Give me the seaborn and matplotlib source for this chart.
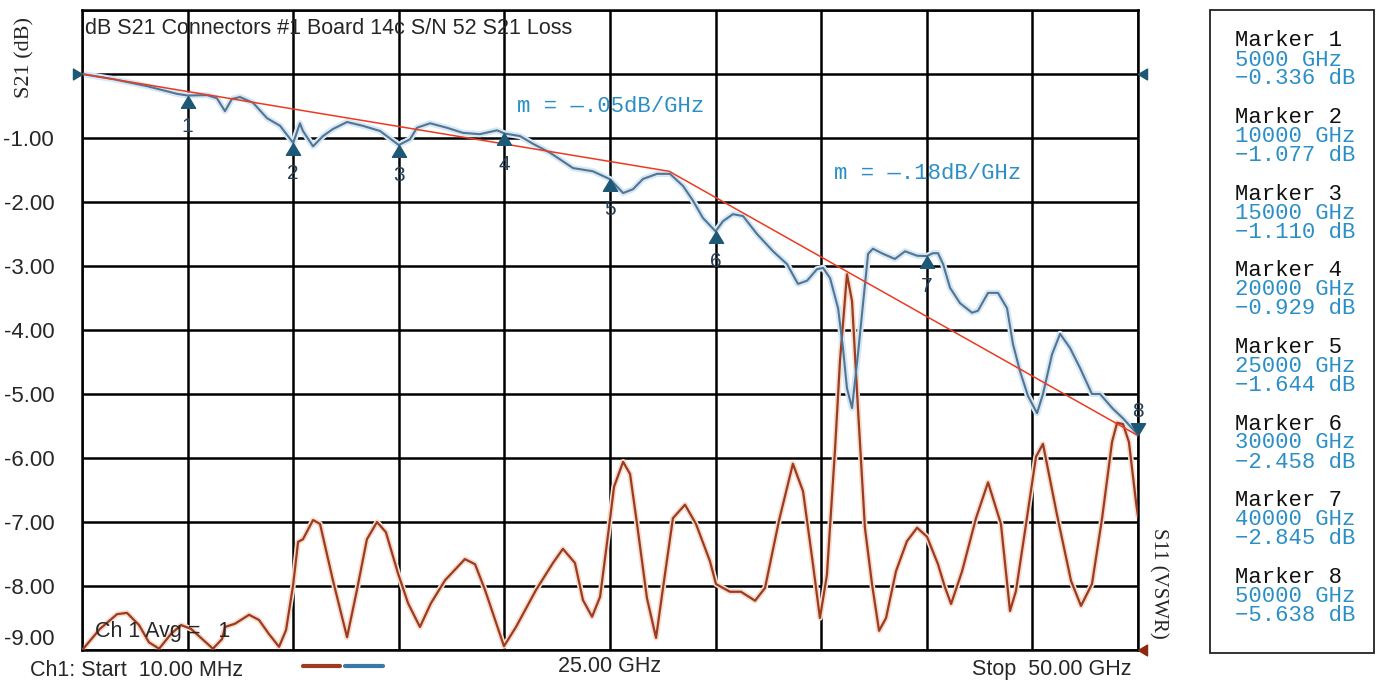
import numpy as np
import pandas as pd
import seaborn as sns
import matplotlib.pyplot as plt
from matplotlib.lines import Line2D
from matplotlib.patches import Rectangle

# S21 trace (GHz, dB)
s21_freq = [0.01, 1.47, 3.08, 4.50, 5.00, 5.92, 6.39, 6.77, 7.10, 7.48, 8.10, 8.76, 9.38, 10.00,
            10.32, 10.46, 10.94, 11.41, 11.88, 12.55, 13.30, 14.11, 15.00, 15.53, 15.86, 16.48,
            17.28, 18.04, 18.84, 19.65, 20.00, 20.74, 21.35, 22.16, 23.25, 24.19, 25.00, 25.62,
            26.09, 26.56, 27.23, 27.84, 28.46, 28.93, 29.40, 30.00, 30.35, 30.82, 31.30, 31.96,
            32.72, 33.38, 33.90, 34.33, 34.80, 35.09, 35.42, 35.80, 36.03, 36.22, 36.46, 36.74,
            36.98, 37.22, 37.45, 37.93, 38.49, 38.97, 39.54, 40.00, 40.29, 40.53, 40.77, 41.10,
            41.57, 42.14, 42.42, 42.90, 43.37, 43.80, 44.08, 44.41, 44.79, 45.22, 45.50, 45.93,
            46.31, 46.78, 47.25, 47.82, 48.20, 48.81, 49.29, 50.00]
s21_db = [0.00, -0.08, -0.19, -0.31, -0.336, -0.33, -0.38, -0.58, -0.39, -0.36, -0.45, -0.69,
          -0.81, -1.077, -0.77, -0.89, -1.13, -0.97, -0.86, -0.75, -0.81, -0.89, -1.110, -1.02,
          -0.84, -0.77, -0.84, -0.92, -0.94, -0.88, -0.929, -0.97, -1.09, -1.23, -1.47, -1.52,
          -1.644, -1.86, -1.80, -1.64, -1.56, -1.56, -1.75, -1.98, -2.25, -2.458, -2.30, -2.19,
          -2.22, -2.50, -2.77, -2.97, -3.28, -3.23, -3.05, -3.03, -3.19, -3.66, -4.28, -4.91,
          -5.22, -4.38, -3.59, -2.81, -2.73, -2.81, -2.89, -2.77, -2.84, -2.845, -2.80, -2.80,
          -2.97, -3.34, -3.58, -3.73, -3.70, -3.42, -3.42, -3.66, -4.22, -4.64, -5.03, -5.30,
          -5.00, -4.38, -4.06, -4.28, -4.59, -5.00, -5.00, -5.23, -5.38, -5.638]

# S11 trace, drawn on the same screen grid
s11_freq = [0.01, 0.85, 1.66, 2.13, 2.70, 3.17, 3.65, 4.21, 4.69, 5.16, 5.73, 6.20, 6.63, 6.77,
            7.24, 7.91, 8.38, 8.85, 9.33, 9.66, 9.99, 10.23, 10.46, 10.94, 11.27, 11.88, 12.55,
            13.02, 13.49, 13.97, 14.39, 14.96, 15.44, 16.00, 16.52, 17.19, 18.13, 18.61, 19.08,
            19.98, 20.55, 21.50, 22.30, 22.77, 23.34, 23.72, 24.15, 24.53, 24.95, 25.19, 25.62,
            25.95, 26.28, 26.75, 27.18, 27.51, 27.98, 28.55, 29.07, 29.73, 30.02, 30.68, 31.20,
            31.87, 32.34, 33.00, 33.66, 34.14, 34.61, 34.94, 35.27, 35.65, 35.89, 36.22, 36.46,
            36.74, 37.07, 37.41, 37.74, 38.07, 38.54, 39.06, 39.54, 40.01, 40.53, 40.86, 41.15,
            41.67, 42.33, 42.90, 43.51, 43.94, 44.22, 44.65, 45.17, 45.50, 46.16, 46.83, 47.30,
            47.82, 48.30, 48.77, 49.01, 49.29, 49.57, 49.91, 50.00]
s11_db = [-9.00, -8.67, -8.44, -8.42, -8.61, -8.88, -8.98, -8.75, -8.61, -8.67, -8.84, -8.98,
          -8.83, -8.64, -8.59, -8.45, -8.53, -8.75, -8.95, -8.69, -8.00, -7.31, -7.27, -6.97,
          -7.03, -7.91, -8.80, -8.06, -7.27, -7.00, -7.16, -7.80, -8.27, -8.64, -8.27, -7.91,
          -7.58, -7.66, -8.06, -8.94, -8.64, -8.06, -7.64, -7.42, -7.64, -8.22, -8.48, -8.17,
          -7.09, -6.45, -6.06, -6.25, -7.03, -8.19, -8.81, -8.03, -6.94, -6.73, -7.03, -7.61,
          -7.97, -8.09, -8.09, -8.23, -8.03, -6.98, -6.09, -6.52, -7.66, -8.50, -7.83, -5.89,
          -4.48, -3.13, -3.55, -5.22, -7.09, -7.98, -8.70, -8.50, -7.77, -7.30, -7.09, -7.23,
          -7.66, -8.02, -8.28, -7.77, -6.94, -6.38, -7.03, -8.39, -8.08, -7.14, -5.98, -5.78,
          -6.88, -7.92, -8.31, -7.97, -6.94, -5.75, -5.45, -5.47, -5.75, -6.70, -6.91]

# markers
marker_ids = ['1', '2', '3', '4', '5', '6', '7', '8']
marker_freq = [5, 10, 15, 20, 25, 30, 40, 50]
marker_db = [-0.336, -1.077, -1.110, -0.929, -1.644, -2.458, -2.845, -5.638]
marker_readout = ['5000 GHz', '10000 GHz', '15000 GHz', '20000 GHz',
                  '25000 GHz', '30000 GHz', '40000 GHz', '50000 GHz']

# two-slope fit line
fit_freq = [0.0, 27.8, 50.0]
fit_db = [0.0, -1.52, -5.65]
slope_labels = ['m = \u2014.05dB/GHz', 'm = \u2014.18dB/GHz']
slope_pos_freq = [20.6, 35.6]
slope_pos_db = [-0.5, -1.55]

y_ticks = [-9, -8, -7, -6, -5, -4, -3, -2, -1, 0, 1]
y_tick_labels = ['-9.00', '-8.00', '-7.00', '-6.00', '-5.00', '-4.00', '-3.00',
                 '-2.00', '-1.00', '', '']

sns.set_style('white')
plt.rcParams['font.family'] = ['Liberation Sans', 'DejaVu Sans']

BLUE = '#557491'
BROWN = '#9c3b1e'
MARK = '#1d5876'
TXTBLUE = '#2a8fc6'
MONO = ['Liberation Mono', 'DejaVu Sans Mono']
SERIF = ['Liberation Serif', 'DejaVu Serif']

fig = plt.figure(figsize=(13.8, 6.84), dpi=100)
ax = fig.add_axes([82 / 1380, 1 - 650 / 684, 1056 / 1380, 640 / 684])

s21 = pd.DataFrame({'freq': s21_freq, 'db': s21_db})
s11 = pd.DataFrame({'freq': s11_freq, 'db': s11_db})

# soft glow under each trace, like the screen capture
sns.lineplot(data=s11, x='freq', y='db', ax=ax, color='#f4dccf', lw=4, sort=False, zorder=2)
sns.lineplot(data=s11, x='freq', y='db', ax=ax, color=BROWN, lw=1.6, sort=False, zorder=3)
sns.lineplot(data=s21, x='freq', y='db', ax=ax, color='#d5e8f5', lw=4.5, sort=False, zorder=2)
sns.lineplot(data=s21, x='freq', y='db', ax=ax, color=BLUE, lw=1.5, sort=False, zorder=3)

ax.plot(fit_freq, fit_db, color='#ec3a22', lw=1.1, zorder=4)

# marker triangles with the tip on the trace
tip_up = [(0, 0), (-0.6, -1), (0.6, -1), (0, 0)]
tip_down = [(0, 0), (-0.6, 1), (0.6, 1), (0, 0)]
for mid, f, d in zip(marker_ids, marker_freq, marker_db):
    up = mid != '8'
    ax.plot([f], [d], marker=tip_up if up else tip_down, ms=17, color=MARK,
            ls='none', zorder=5, clip_on=False)
    ax.annotate(mid, (f, d), xytext=(0, -22 if up else 17), textcoords='offset points',
                ha='center', va='center', fontsize=15, color='#243f58', zorder=5)

# reference level arrows on the frame
ref_right = [(0, 0), (-1, 0.6), (-1, -0.6), (0, 0)]
ref_left = [(0, 0), (1, 0.6), (1, -0.6), (0, 0)]
ax.plot([0], [0], marker=ref_right, ms=13, color=MARK, ls='none', clip_on=False, zorder=6)
ax.plot([50], [0], marker=ref_left, ms=13, color=MARK, ls='none', clip_on=False, zorder=6)
ax.plot([50], [-9], marker=ref_left, ms=13, color='#8a2a10', ls='none', clip_on=False, zorder=6)

for lab, f, d in zip(slope_labels, slope_pos_freq, slope_pos_db):
    ax.text(f, d, lab, family=MONO, fontsize=16, color=TXTBLUE, va='center', ha='left', zorder=6)

ax.set_xlim(0, 50)
ax.set_ylim(-9, 1)
ax.set_xticks(np.arange(0, 51, 5))
ax.set_yticks(y_ticks)
ax.set_yticklabels(y_tick_labels)
ax.get_yticklabels()[0].set_va('bottom')   # bottom label sits just above the frame edge
ax.grid(True, color='black', lw=1.8, zorder=1)
ax.set_axisbelow(True)
ax.tick_params(axis='both', length=0, labelbottom=False, labelsize=16, pad=20)
for s in ax.spines.values():
    s.set_color('black')
    s.set_linewidth(1.8)
ax.set_xlabel('')
ax.set_ylabel('')

ax.text(0.003, 0.987, 'dB S21 Connectors #1 Board 14c S/N 52 S21 Loss', transform=ax.transAxes,
        fontsize=15.5, va='top', ha='left', zorder=6)
ax.text(0.012, 0.012, 'Ch 1 Avg =   1', transform=ax.transAxes, fontsize=15.5,
        va='bottom', ha='left', zorder=6)

fig.text(25 / 1380, 1 - 58 / 684, 'S21 (dB)', family=SERIF, fontsize=16, rotation=90,
         ha='center', va='center')
fig.text(1158 / 1380, 1 - 583 / 684, 'S11 (VSWR)', family=SERIF, fontsize=15, rotation=270,
         ha='center', va='center')

# footer
fig.text(30 / 1380, 1 - 670 / 684, 'Ch1: Start  10.00 MHz', fontsize=15.5, ha='left', va='center')
fig.text(610 / 1380, 1 - 667 / 684, '25.00 GHz', fontsize=15.5, ha='center', va='center')
fig.text(1132 / 1380, 1 - 670 / 684, 'Stop  50.00 GHz', fontsize=15.5, ha='right', va='center')
fig.add_artist(Line2D([303 / 1380, 340 / 1380], [1 - 666 / 684] * 2, color=BROWN, lw=3))
fig.add_artist(Line2D([345 / 1380, 383 / 1380], [1 - 666 / 684] * 2, color='#3a78a8', lw=3))

# marker readout box
fig.add_artist(Rectangle((1210 / 1380, 1 - 653 / 684), 164 / 1380, 643 / 684,
                         transform=fig.transFigure, fill=False, ec='#222222', lw=1.3))
for i, (mid, rd, d) in enumerate(zip(marker_ids, marker_readout, marker_db)):
    y0 = 41 + 76.6 * i
    fig.text(1235 / 1380, 1 - y0 / 684, 'Marker ' + mid, family=MONO, fontsize=16,
             color='#111111', va='center')
    fig.text(1235 / 1380, 1 - (y0 + 19) / 684, rd, family=MONO, fontsize=16,
             color=TXTBLUE, va='center')
    fig.text(1235 / 1380, 1 - (y0 + 38) / 684, f'{d:.3f} dB'.replace('-', '\u2212'),
             family=MONO, fontsize=16, color=TXTBLUE, va='center')

fig.savefig('out.png', dpi=100)
